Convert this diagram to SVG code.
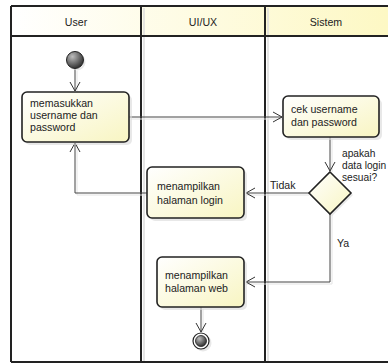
<svg xmlns="http://www.w3.org/2000/svg" width="388" height="363" viewBox="0 0 388 363">
<defs>
<linearGradient id="hdr" x1="0" y1="0" x2="1" y2="0"><stop offset="0" stop-color="#ffffff"/><stop offset="1" stop-color="#fdf8c4"/></linearGradient>
<linearGradient id="box" x1="0" y1="0" x2="1" y2="1"><stop offset="0" stop-color="#ffffff"/><stop offset="1" stop-color="#f8f5c2"/></linearGradient>
<radialGradient id="ball" cx="0.35" cy="0.3" r="0.8"><stop offset="0" stop-color="#bdbdbd"/><stop offset="1" stop-color="#202020"/></radialGradient>
<marker id="arr" markerWidth="12" markerHeight="12" refX="10" refY="6" orient="auto" markerUnits="userSpaceOnUse"><path d="M1,1 L10,6 L1,11" fill="none" stroke="#333" stroke-width="1"/></marker>
</defs>
<style>
text{font-family:"Liberation Sans",Arial,sans-serif;font-size:10.6px;fill:#222}
.hd{text-anchor:middle}
.q{font-size:10.2px}
.act{fill:url(#box);stroke:#222;stroke-width:1.6}
.sh{fill:#d8d8d8;opacity:.6}
.ln{fill:none;stroke:#444;stroke-width:1}
.lsh{fill:none;stroke:#e4e4e4;stroke-width:1}
.lane{stroke:#222;stroke-width:2}
</style>
<g id="lanes">
<rect x="11" y="6" width="378" height="30" fill="url(#hdr)"/>
<line x1="144" y1="8" x2="144" y2="362" stroke="#dcdcdc" stroke-width="1.5"/>
<line x1="268" y1="8" x2="268" y2="362" stroke="#dcdcdc" stroke-width="1.5"/>
<line x1="11" y1="6" x2="388" y2="6" class="lane" stroke-width="1.5"/>
<line x1="11" y1="36" x2="388" y2="36" class="lane" stroke-width="1.5"/>
<line x1="11" y1="362" x2="388" y2="362" class="lane" stroke-width="1.5"/>
<line x1="11" y1="6" x2="11" y2="362" class="lane" stroke-width="1.5"/>
<line x1="141" y1="6" x2="141" y2="362" class="lane"/>
<line x1="265" y1="6" x2="265" y2="362" class="lane"/>
<text class="hd" x="76" y="26">User</text>
<text class="hd" x="203" y="26">UI/UX</text>
<text class="hd" x="326" y="26">Sistem</text>
</g>
<g id="connectors">
<path class="lsh" d="M77,71 V92 M131,119 H283 M332,139 V172 M309,195 H246 M147,195 H77 V144 M332,215 V284 H246 M203,309 V332"/>
<path class="ln" d="M75,69 V91" marker-end="url(#arr)"/>
<path class="ln" d="M129,117 H282" marker-end="url(#arr)"/>
<path class="ln" d="M330,137 V171" marker-end="url(#arr)"/>
<path class="ln" d="M309,193 H246" marker-end="url(#arr)"/>
<path class="ln" d="M147,193 H75 V143" marker-end="url(#arr)"/>
<path class="ln" d="M330,214 V282 H246" marker-end="url(#arr)"/>
<path class="ln" d="M201,307 V332" marker-end="url(#arr)"/>
<text x="270" y="189">Tidak</text>
<text x="337" y="247">Ya</text>
</g>
<g id="start">
<circle cx="77" cy="62" r="8.5" class="sh"/>
<circle cx="75" cy="60" r="8.5" fill="url(#ball)" stroke="#222" stroke-width="1"/>
</g>
<g id="act1">
<rect x="25" y="95" width="107" height="50" rx="5" class="sh"/>
<rect x="22" y="92" width="107" height="50" rx="5" class="act"/>
<text x="30" y="107">memasukkan</text>
<text x="30" y="119">username dan</text>
<text x="30" y="131">password</text>
</g>
<g id="act2">
<rect x="286" y="99" width="96" height="41" rx="5" class="sh"/>
<rect x="283" y="96" width="96" height="41" rx="5" class="act"/>
<text x="291" y="113">cek username</text>
<text x="291" y="126">dan password</text>
</g>
<g id="decision">
<path d="M332,174 L353,195 L332,216 L311,195 Z" class="sh"/>
<path d="M330,172 L351,193 L330,214 L309,193 Z" fill="url(#box)" stroke="#222" stroke-width="1.6"/>
<text class="q" x="342" y="157">apakah</text>
<text class="q" x="342" y="169">data login</text>
<text class="q" x="342" y="181">sesuai?</text>
</g>
<g id="act3">
<rect x="150" y="170" width="97" height="51" rx="5" class="sh"/>
<rect x="147" y="167" width="97" height="51" rx="5" class="act"/>
<text x="157" y="190">menampilkan</text>
<text x="157" y="204">halaman login</text>
</g>
<g id="act4">
<rect x="160" y="260" width="87" height="50" rx="5" class="sh"/>
<rect x="157" y="257" width="87" height="50" rx="5" class="act"/>
<text x="165" y="279">menampilkan</text>
<text x="165" y="292">halaman web</text>
</g>
<g id="end">
<circle cx="203" cy="343" r="8.5" class="sh"/>
<circle cx="201" cy="341" r="8" fill="#fff" stroke="#222" stroke-width="1.2"/>
<circle cx="201" cy="341" r="5.5" fill="url(#ball)" stroke="#222" stroke-width="0.8"/>
</g>
</svg>
